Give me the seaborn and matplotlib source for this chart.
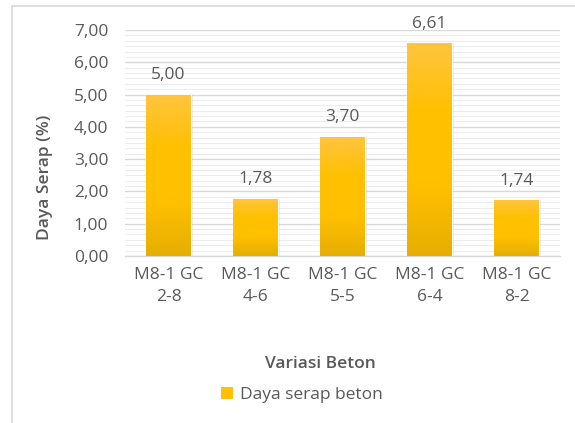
import numpy as np
import pandas as pd
import matplotlib
matplotlib.use("Agg")
import matplotlib.pyplot as plt
import seaborn as sns
from matplotlib.colors import LinearSegmentedColormap
from matplotlib.lines import Line2D
from matplotlib.patches import Patch
from matplotlib.ticker import FuncFormatter, MultipleLocator

# data
variasi = ["M8-1 GC\n2-8", "M8-1 GC\n4-6", "M8-1 GC\n5-5", "M8-1 GC\n6-4", "M8-1 GC\n8-2"]
daya_serap = [5.00, 1.78, 3.70, 6.61, 1.74]
seri = "Daya serap beton"

df = pd.DataFrame({"variasi": variasi, "daya_serap": daya_serap})

sns.set_theme(style="white")
plt.rcParams["font.family"] = ["Open Sans", "DejaVu Sans"]

teks = "#595959"
grid_major = "#D9D9D9"
grid_minor = "#EDEDED"
fs = 12.5

fig = plt.figure(figsize=(5.75, 4.23), dpi=100)
ax = fig.add_axes([0.2174, 0.3948, 0.7566, 0.5342])

sns.barplot(data=df, x="variasi", y="daya_serap", color="#FFC000", width=0.51,
            ax=ax, zorder=3)

# gradien kuning seperti Excel
cmap = LinearSegmentedColormap.from_list("kuning", ["#E6AE00", "#FFC000", "#FFC000", "#FFC540"])
grad = np.linspace(0, 1, 256).reshape(-1, 1)
for p in ax.patches:
    x0, w, h = p.get_x(), p.get_width(), p.get_height()
    # bayangan tipis
    sh = plt.Rectangle((x0 + 0.012, 0), w + 0.01, h, color="#000000", alpha=0.08,
                       zorder=2.5, lw=0)
    ax.add_patch(sh)
    im = ax.imshow(grad, cmap=cmap, origin="lower", aspect="auto",
                   extent=[x0, x0 + w, 0, h], zorder=3.5)
    im.set_clip_path(p)

for i, v in enumerate(daya_serap):
    ax.annotate(f"{v:.2f}".replace(".", ","), (i, v), xytext=(0, 8),
                textcoords="offset points", ha="center", va="bottom",
                fontsize=fs, color=teks)

ax.set_xlim(-0.5, len(variasi) - 0.5)
ax.set_ylim(0, 7)
ax.yaxis.set_major_locator(MultipleLocator(1))
ax.yaxis.set_minor_locator(MultipleLocator(1 / 6))
ax.yaxis.set_major_formatter(FuncFormatter(lambda v, _: f"{v:.2f}".replace(".", ",")))
ax.grid(axis="y", which="major", color=grid_major, lw=1.0, zorder=0)
ax.grid(axis="y", which="minor", color=grid_minor, lw=0.8, zorder=0)
ax.set_axisbelow(True)

for s in ["top", "right", "left"]:
    ax.spines[s].set_visible(False)
ax.spines["bottom"].set_color(grid_major)
ax.spines["bottom"].set_linewidth(1.0)

ax.tick_params(axis="y", which="both", length=0, pad=12, labelsize=fs, labelcolor=teks)
ax.tick_params(axis="x", length=0, pad=8, labelsize=fs, labelcolor=teks)
for lbl in ax.get_xticklabels():
    lbl.set_linespacing(1.45)

ax.set_xlabel("")
ax.set_ylabel("")
fig.text(0.078, 0.58, "Daya Serap (%)", rotation=90, ha="center", va="center",
         fontsize=fs, fontweight="semibold", color=teks)
fig.text(0.557, 0.139, "Variasi Beton", ha="center", va="center",
         fontsize=fs, fontweight="semibold", color=teks)

handle = Patch(facecolor="#FFC000", edgecolor="none")
fig.legend([handle], [seri], loc="center", bbox_to_anchor=(0.525, 0.066),
           frameon=False, fontsize=fs, labelcolor=teks, handlelength=0.65,
           handleheight=0.65, handletextpad=0.4)

# bingkai chart area
fig.add_artist(Line2D([0.021, 0.021], [0, 0.986], transform=fig.transFigure,
                      color=grid_major, lw=1.2))
fig.add_artist(Line2D([0.021, 1], [0.986, 0.986], transform=fig.transFigure,
                      color=grid_major, lw=1.2))

fig.savefig("out.png", dpi=100)
